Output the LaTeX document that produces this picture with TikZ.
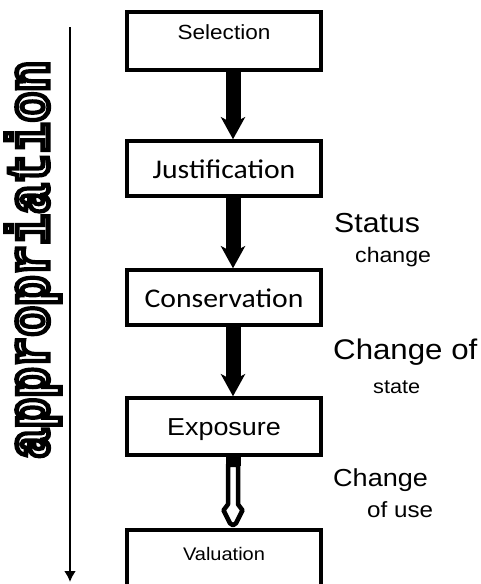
\documentclass[tikz,border=0pt]{standalone}
\usepackage{fontspec}
\setmainfont{Liberation Sans}
\newfontfamily\calib{Carlito}
\newfontfamily\monof{Liberation Mono}
\usetikzlibrary{arrows.meta,calc}
\newcommand\hs[1]{\scalebox{1.1}[1]{#1}}
\newcommand\outl[1]{\special{pdf:literal direct 1 Tr 4.2 w}#1\special{pdf:literal direct 0 Tr}}
\newcommand\fs[1]{\fontsize{#1}{#1}\selectfont}
\begin{document}
\begin{tikzpicture}[x=1pt,y=-1pt,
  box/.style={draw, line width=3.5pt, minimum width=194pt, inner xsep=0pt, inner ysep=0pt, anchor=base},
  fat/.style={line width=15pt, -{Stealth[length=22pt,width=24pt,inset=6pt]}},
  lab/.style={anchor=base west, inner sep=0pt},
]
\useasboundingbox (0,0) rectangle (480,584);
\clip (0,0) rectangle (480,584);
\fill[white] (0,0) rectangle (480,584);

% boxes
\node[box, text height=27pt, text depth=31pt, font=\fs{20.5}] (sel) at (224,39) {\hs{Selection}\hspace{6pt}};
\node[box, text height=37pt, text depth=18pt, font=\calib\fs{27}] (jus) at (224,178) {\hs{Justification}\hspace{16pt}};
\node[box, text height=37pt, text depth=18pt, font=\calib\fs{27}] (con) at (224,307) {\hs{Conservation}\hspace{10pt}};
\node[box, text height=37pt, text depth=20pt, font=\fs{24.5}] (exp) at (224,435) {\hs{Exposure}\hspace{6pt}};
\node[box, text height=30pt, text depth=40pt, font=\fs{18.2}] (val) at (224,560) {\hs{Valuation}\hspace{5pt}};

% black arrows
\draw[fat] ([xshift=9pt]sel.south) -- ([xshift=9pt]jus.north);
\draw[fat] ([xshift=9pt]jus.south) -- ([xshift=9pt]con.north);
\draw[fat] ([xshift=9pt]con.south) -- ([xshift=9pt]exp.north);

% open arrow
\path ([xshift=9pt]exp.south) coordinate (e1) ([xshift=9pt]val.north) coordinate (e2);
\fill ($(e1)+(-7.5,0)$) rectangle ($(e1)+(7.5,9)$);
\filldraw[fill=white, line width=4.5pt, line join=round]
  ($(e1)+(-5,8)$) -- ($(e2)+(-5,-24)$) -- ($(e2)+(-9.5,-18)$) -- ($(e2)+(-3,-5)$) -- ($(e2)+(0,-3)$)
  -- ($(e2)+(3,-5)$) -- ($(e2)+(9.5,-18)$) -- ($(e2)+(5,-24)$) -- ($(e1)+(5,8)$) -- cycle;

% labels
\node[lab, font=\fs{27.5}] (l1) at (334,232) {\hs{Status}};
\node[lab, font=\fs{21}] (l2) at (355,262) {\hs{change}};
\node[lab, font=\fs{28.4}] (l3) at (333,359) {\hs{Change of}};
\node[lab, font=\fs{19.7}] (l4) at (373,393) {\hs{state}};
\node[lab, font=\fs{24.6}] (l5) at (333,486) {\hs{Change}};
\node[lab, font=\fs{22}] (l6) at (367,517) {\hs{of use}};

% left arrow and vertical text
\coordinate (ltop) at (70,27);
\coordinate (lbot) at (70,582);
\draw[line width=2.5pt, -{Latex[length=11pt,width=12pt]}] (ltop) -- (lbot);
\node[rotate=90, inner sep=0pt, font=\monof\bfseries\fs{51}] (app) at (33,260) {\scalebox{1}[1.15]{\outl{appropriation}}};
\end{tikzpicture}
\end{document}
